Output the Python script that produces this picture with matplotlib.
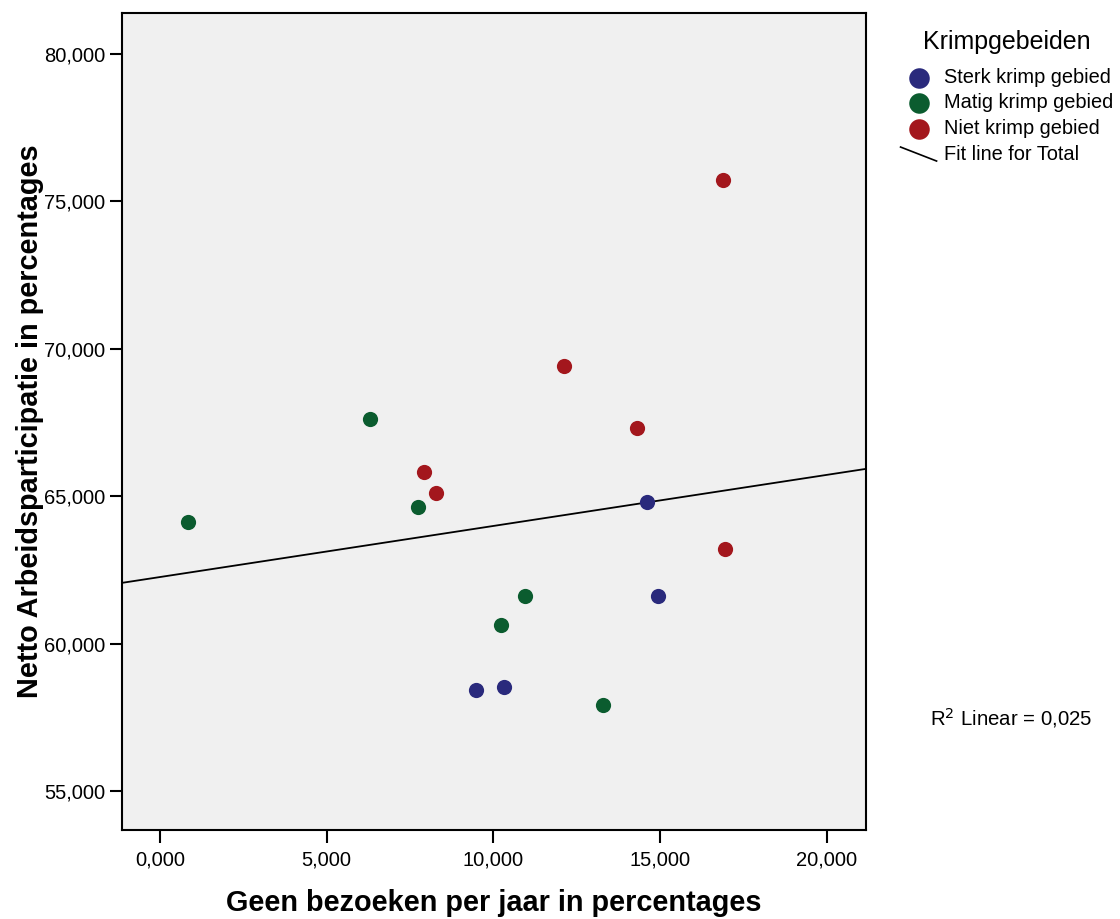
import matplotlib
matplotlib.use("Agg")
import matplotlib.pyplot as plt
from matplotlib.lines import Line2D
from matplotlib.legend_handler import HandlerBase
import numpy as np

plt.rcParams['font.family'] = ['Liberation Sans', 'DejaVu Sans']

# data (percentages)
sterk_x = [14.60, 14.93, 9.48, 10.31]
sterk_y = [64.80, 61.61, 58.43, 58.53]
matig_x = [0.84, 6.30, 7.74, 10.22, 10.94, 13.28]
matig_y = [64.12, 67.62, 64.63, 60.63, 61.61, 57.92]
niet_x = [16.88, 12.11, 14.30, 7.92, 8.28, 16.94]
niet_y = [75.73, 69.42, 67.31, 65.82, 65.11, 63.21]

groups = ["Sterk krimp gebied", "Matig krimp gebied", "Niet krimp gebied"]
colours = ["#2a2a7c", "#0b5c2f", "#a3171d"]

xticks = [0, 5, 10, 15, 20]
yticks = [55, 60, 65, 70, 75, 80]
r2_label = "0,025"


class DiagHandler(HandlerBase):
    def create_artists(self, legend, orig_handle, xdescent, ydescent,
                       width, height, fontsize, trans):
        l = Line2D([-xdescent, -xdescent + width],
                   [-ydescent + height * 0.9, -ydescent - height * 0.1],
                   color="black", lw=1.2, transform=trans)
        return [l]


fig = plt.figure(figsize=(11.2, 9.19), dpi=100)
ax = fig.add_axes([0.1089, 0.0968, 0.6643, 0.8891])
ax.set_facecolor("#f0f0f0")

all_x = np.array(sterk_x + matig_x + niet_x)
all_y = np.array(sterk_y + matig_y + niet_y)

for xs, ys, c, lab in zip([sterk_x, matig_x, niet_x], [sterk_y, matig_y, niet_y], colours, groups):
    ax.scatter(xs, ys, s=120, color=c, label=lab, zorder=3, linewidths=0)

xmin, xmax = -1.14, 21.17
a, b = np.polyfit(all_x, all_y, 1)
xx = np.array([xmin, xmax])
fit, = ax.plot(xx, a * xx + b, color="black", lw=1.3, label="Fit line for Total", zorder=2)

ax.set_xlim(xmin, xmax)
ax.set_ylim(53.68, 81.39)
ax.set_xticks(xticks)
ax.set_yticks(yticks)
ax.set_xticklabels([f"{v:.3f}".replace(".", ",") for v in xticks])
ax.set_yticklabels([f"{v:.3f}".replace(".", ",") for v in yticks])
ax.tick_params(direction="out", length=9, width=1.5, labelsize=14.5, colors="black", pad=3)
ax.tick_params(axis="x", pad=6)
for s in ax.spines.values():
    s.set_linewidth(1.5)

ax.set_xlabel("Geen bezoeken per jaar in percentages", fontsize=20.8, fontweight="bold", va="center")
ax.set_ylabel("Netto Arbeidsparticipatie in percentages", fontsize=20.8, fontweight="bold", va="center")
ax.xaxis.set_label_coords(0.5, -0.0893)
ax.yaxis.set_label_coords(-0.1237, 0.5)

handles, labels = ax.get_legend_handles_labels()
leg = fig.legend(handles, labels, loc="upper left", bbox_to_anchor=(0.788, 0.987),
                 title="Krimpgebeiden", title_fontsize=18, fontsize=14.4, frameon=False,
                 handler_map={fit: DiagHandler()}, handlelength=1.8, handletextpad=0.35,
                 labelspacing=0.33, markerscale=1.35)
leg._legend_box.sep = 10

fig.text(0.83, 0.219, "R$^2$ Linear = " + r2_label, fontsize=14.7,
         ha="left", va="center")

fig.savefig("out.png", dpi=100)
